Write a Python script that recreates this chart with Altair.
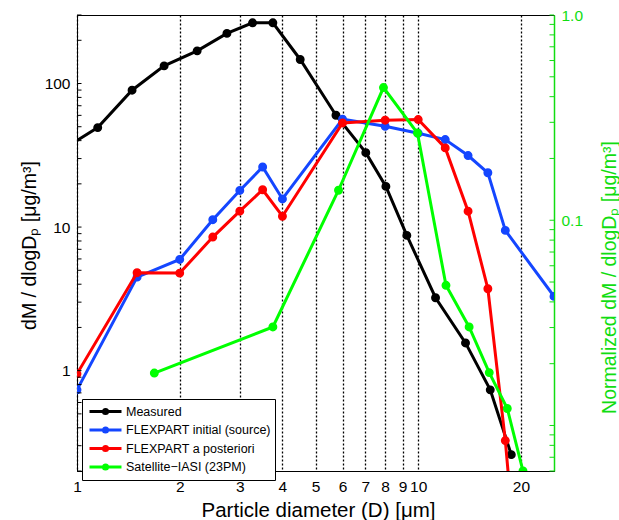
import altair as alt
import pandas as pd

# ---------------- data ----------------
SERIES = ["Measured", "FLEXPART initial (source)", "FLEXPART a posteriori",
          "Satellite\u2212IASI (23PM)"]
COLORS = ["#000000", "#1446ff", "#ff0000", "#00ff00"]

measured_d = [0.93, 1.15, 1.45, 1.80, 2.25, 2.75, 3.27, 3.75, 4.51, 5.74,
              7.02, 8.04, 9.26, 11.24, 13.76, 16.26, 18.74]
measured_v = [36.1, 49.3, 89.8, 132.6, 168.8, 223.3, 264.6, 264.6, 147.0, 60.1,
              33.0, 19.2, 8.75, 3.22, 1.56, 0.735, 0.26]

initial_d = [1, 1.5, 2, 2.5, 3, 3.5, 4, 6, 8, 10, 12, 14, 16, 18, 25]
initial_v = [0.735, 4.48, 5.95, 11.26, 18.0, 26.2, 15.7, 56.4, 50.4, 45.0,
             40.7, 31.5, 23.9, 9.48, 3.29]

posterior_d = [1, 1.5, 2, 2.5, 3, 3.5, 4, 6, 8, 10, 12, 14, 16, 18, 20]
posterior_v = [0.95, 4.81, 4.78, 8.52, 12.9, 18.2, 11.9, 53.1, 55.5, 56.1,
               35.6, 12.9, 3.72, 0.326, 0.019]

iasi_d = [1.685, 3.75, 5.84, 7.91, 9.95, 12.06, 14.1, 16.15, 18.24, 20.28]
iasi_v = [0.0180, 0.0302, 0.140, 0.443, 0.266, 0.0482, 0.0302, 0.0181,
          0.0121, 0.0060]

x_tick_values = [1, 2, 3, 4, 5, 6, 7, 8, 9, 10, 20]
yl_label_values = [1, 10, 100]
yr_label_values = [0.1, 1.0]
yl_tick_values = [0.2, 0.3, 0.4, 0.5, 0.6, 0.7, 0.8, 0.9,
                  1, 2, 3, 4, 5, 6, 7, 8, 9,
                  10, 20, 30, 40, 50, 60, 70, 80, 90, 100, 200, 300]
yr_tick_values = [0.006, 0.007, 0.008, 0.009,
                  0.01, 0.02, 0.03, 0.04, 0.05, 0.06, 0.07, 0.08, 0.09,
                  0.1, 0.2, 0.3, 0.4, 0.5, 0.6, 0.7, 0.8, 0.9, 1.0]

# ---------------- styling ----------------
FONT = "Liberation Sans"
W, H = 477, 456
GREEN_AX = "#11dd11"

x_scale = alt.Scale(type="log", domain=[1, 25], nice=False)
yl_scale = alt.Scale(type="log", domain=[0.2, 300], nice=False)
yr_scale = alt.Scale(type="log", domain=[0.006, 1.0], nice=False)
color_scale = alt.Scale(domain=SERIES, range=COLORS)

x_axis = alt.Axis(
    values=x_tick_values, format="~g", labelFlush=False, labelOverlap=False,
    ticks=False, tickSize=0, labelPadding=8, labelFontSize=15.5, labelFont=FONT,
    labelColor="black", domainColor="black", domainWidth=1,
    grid=True, gridColor="black", gridDash=[2, 2], gridWidth=1.3, gridOpacity=1,
    title="Particle diameter (D) [\u03bcm]", titleFont=FONT, titleFontSize=20.5,
    titleFontWeight="normal", titleColor="black", titleBaseline="alphabetic",
    titleX=241, titleY=45,
)
yl_axis = alt.Axis(
    values=yl_label_values, format="~g", ticks=False, tickSize=0, grid=False,
    labelPadding=7, labelFontSize=15.5, labelFont=FONT, labelColor="black",
    domainColor="black", domainWidth=1,
    title="dM / dlogD\u209a [\u03bcg/m\u00b3]", titleFont=FONT, titleFontSize=19.5,
    titleFontWeight="normal", titleColor="black", titleAngle=270,
    titleBaseline="alphabetic", titleX=-42, titleY=230,
)
yr_axis = alt.Axis(
    orient="right", values=yr_label_values, format=".1f", ticks=False, tickSize=0,
    grid=False, labelPadding=7, labelFontSize=15.5, labelFont=FONT,
    labelColor=GREEN_AX, domainColor=GREEN_AX, domainWidth=1.5,
    title="Normalized dM / dlogD\u209a [\u03bcg/m\u00b3]", titleFont=FONT,
    titleFontSize=19.5, titleFontWeight="normal", titleColor=GREEN_AX,
    titleAngle=270, titleBaseline="alphabetic", titleX=61, titleY=262,
)

legend = alt.Legend(
    title=None, orient="none", legendX=5, legendY=384,
    symbolType="M-1,0L3.57,0M0.985,0A0.3,0.3,0,1,0,1.585,0A0.3,0.3,0,1,0,0.985,0Z",
    symbolSize=196, symbolStrokeWidth=3, labelOffset=21, labelFont=FONT,
    labelFontSize=12.5, labelColor="black", labelLimit=300, padding=4,
    rowPadding=1.5, strokeColor="black", fillColor="white", symbolOffset=2,
)


def frame(d, v, name):
    return pd.DataFrame({"D": d, "v": v, "s": [name] * len(d)})


def series(df, color, yscale, yaxis):
    base = alt.Chart(df).encode(
        x=alt.X("D:Q", scale=x_scale, axis=x_axis),
        y=alt.Y("v:Q", scale=yscale, axis=yaxis),
    )
    line = base.mark_line(strokeWidth=3, clip=True).encode(
        color=alt.Color("s:N", scale=color_scale, legend=legend)
    )
    pts = base.mark_point(filled=True, size=55, opacity=1, color=color,
                          stroke=color, strokeWidth=1.5, clip=True)
    return [line, pts]


df_m = frame(measured_d, measured_v, SERIES[0])
df_i = frame(initial_d, initial_v, SERIES[1])
df_p = frame(posterior_d, posterior_v, SERIES[2])
df_s = frame(iasi_d, iasi_v, SERIES[3])

left_ticks = alt.Chart(pd.DataFrame({"t": yl_tick_values})).mark_rule(
    color="black", strokeWidth=1).encode(
    y=alt.Y("t:Q", scale=yl_scale, axis=yl_axis),
    x=alt.value(0), x2=alt.value(4.5))
right_ticks = alt.Chart(pd.DataFrame({"t": yr_tick_values})).mark_rule(
    color=GREEN_AX, strokeWidth=1).encode(
    y=alt.Y("t:Q", scale=yr_scale, axis=yr_axis),
    x=alt.value(W - 4.5), x2=alt.value(W))

left = alt.layer(
    *series(df_m, COLORS[0], yl_scale, yl_axis),
    *series(df_i, COLORS[1], yl_scale, yl_axis),
    *series(df_p, COLORS[2], yl_scale, yl_axis),
    left_ticks,
)
right = alt.layer(*series(df_s, COLORS[3], yr_scale, yr_axis), right_ticks)

chart = (
    alt.layer(left, right)
    .resolve_scale(y="independent")
    .properties(
        width=W, height=H,
        autosize=alt.AutoSizeParams(type="none"),
        padding={"left": 77, "top": 15, "right": 65, "bottom": 49},
        background="white",
    )
    .configure_view(stroke="black", strokeWidth=1)
)

chart.save("out.html", embed_options={"renderer": "svg", "actions": False})
